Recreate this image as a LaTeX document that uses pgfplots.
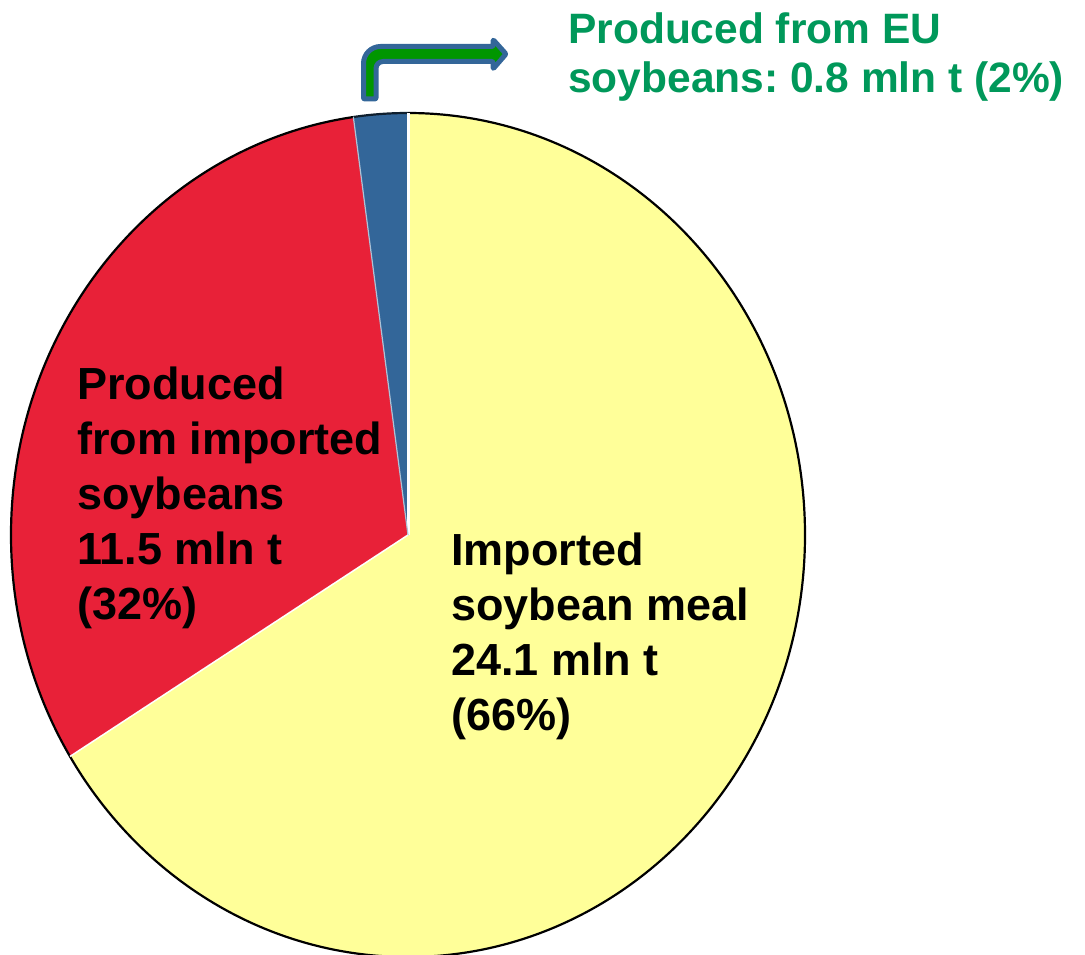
\documentclass[border=0pt]{standalone}
\usepackage{pgfplots}
\pgfplotsset{compat=1.18}
\usepackage{pgfplotstable}
\usepackage{fontspec}
\setmainfont{Liberation Sans}
\frenchspacing
\definecolor{pieyellow}{RGB}{255,255,153}
\definecolor{piered}{RGB}{232,33,56}
\definecolor{pieblue}{RGB}{51,102,153}
\definecolor{arrowgreen}{RGB}{0,150,0}
\definecolor{textgreen}{RGB}{0,152,90}
\pgfplotstableread{
label value
ImportedMeal 24.1
FromImported 11.5
FromEU 0.8
}\piedata
\begin{document}
\begin{tikzpicture}
\pgfplotstablegetelem{0}{value}\of\piedata \let\va\pgfplotsretval
\pgfplotstablegetelem{1}{value}\of\piedata \let\vb\pgfplotsretval
\pgfplotstablegetelem{2}{value}\of\piedata \let\vc\pgfplotsretval
\pgfmathsetmacro{\tot}{\va+\vb+\vc}
\pgfmathsetmacro{\aA}{90}
\pgfmathsetmacro{\aB}{90-360*\va/\tot}
\pgfmathsetmacro{\aC}{\aB-360*\vb/\tot}
\pgfmathsetmacro{\aD}{\aC-360*\vc/\tot}
\begin{axis}[
  x=1pt, y=1pt,
  xmin=0, xmax=1085, ymin=0, ymax=955,
  y dir=reverse,
  hide axis,
  clip=true,
]
\path (axis cs:0,0) rectangle (axis cs:1085,955);
% slices
\fill[pieyellow] (axis cs:408,535) -- ++(\aA:397pt and 422pt) arc[start angle=\aA, end angle=\aB, x radius=397pt, y radius=422pt] -- cycle;
\fill[piered] (axis cs:408,535) -- ++(\aB:397pt and 422pt) arc[start angle=\aB, end angle=\aC, x radius=397pt, y radius=422pt] -- cycle;
\fill[pieblue] (axis cs:408,535) -- ++(\aC:397pt and 422pt) arc[start angle=\aC, end angle=\aD, x radius=397pt, y radius=422pt] -- cycle;
% outline
\draw[black, line width=2.2pt] (axis cs:408,535) ++(\aA:397pt and 422pt) arc[start angle=\aA, end angle=\aC, x radius=397pt, y radius=422pt];
\draw[black!70!pieblue, line width=2.2pt] (axis cs:408,535) ++(\aC:397pt and 422pt) arc[start angle=\aC, end angle=\aD, x radius=397pt, y radius=422pt];
% separators
\draw[white, line width=3pt] (axis cs:408,535) -- ++(\aA:397pt and 422pt);
\draw[white, line width=1.5pt] (axis cs:408,535) -- ++(\aB:397pt and 422pt);
\draw[white!60!pieblue, line width=1.2pt] (axis cs:408,535) -- ++(\aC:397pt and 422pt);
% arrow
\draw[pieblue, fill=arrowgreen, line width=5pt, line join=round]
  (axis cs:363.5,99) [rounded corners=17pt]-- (axis cs:363.5,46.5) [rounded corners=1pt]-- (axis cs:493,46.5)
  -- (axis cs:493,39.5) -- (axis cs:506,54) -- (axis cs:493,69) -- (axis cs:493,61.5)
  [rounded corners=7pt]-- (axis cs:376,61.5) [rounded corners=1pt]-- (axis cs:376,99) -- cycle;
% labels
\begin{scope}[every node/.style={anchor=base west, inner sep=0pt, font=\fontsize{45}{55}\selectfont\bfseries}]
\node at (axis cs:77,399) {Produced};
\node at (axis cs:77,454) {from imported};
\node at (axis cs:77,509) {soybeans};
\node at (axis cs:77,564) {11.5 mln t};
\node at (axis cs:77,619) {(32\%)};
\node at (axis cs:451,565) {Imported};
\node at (axis cs:451,620) {soybean meal};
\node at (axis cs:451,675) {24.1 mln t};
\node at (axis cs:451,730) {(66\%)};
\end{scope}
\begin{scope}[every node/.style={anchor=base west, inner sep=0pt, text=textgreen, font=\fontsize{42.5}{49}\selectfont\bfseries}]
\node at (axis cs:568,44) {Produced from EU};
\node at (axis cs:568,93) {soybeans: 0.8 mln t (2\%)};
\end{scope}
\end{axis}
\end{tikzpicture}
\end{document}
